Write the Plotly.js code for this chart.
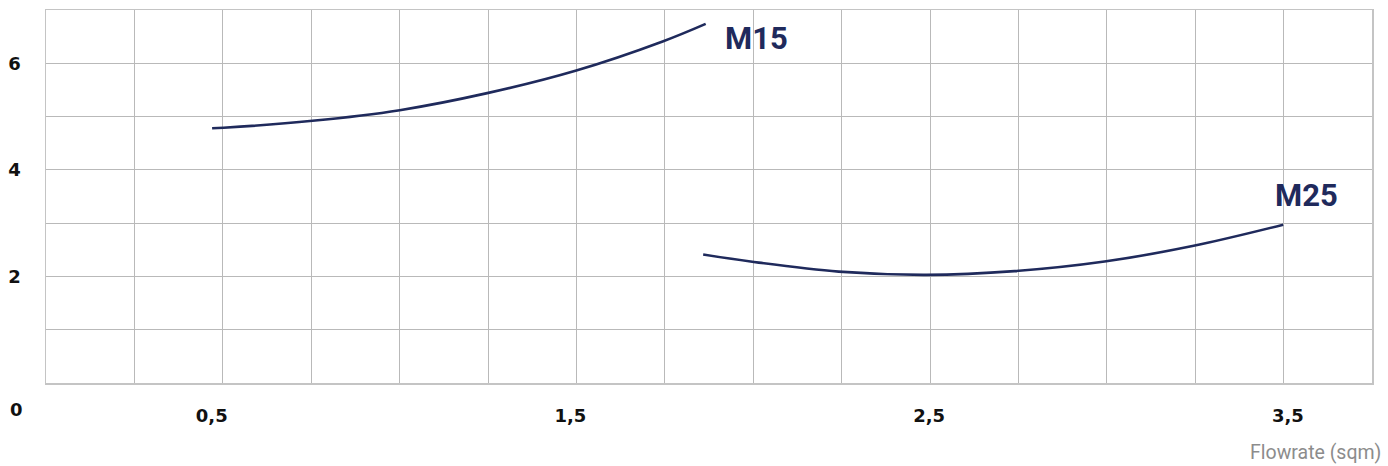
<!DOCTYPE html>
<html>
<head>
<meta charset="utf-8">
<script src="https://cdn.plot.ly/plotly-3.0.1.min.js"></script>
<style>html,body{margin:0;padding:0;background:#fff;}#chart{width:1388px;height:466px;}</style>
</head>
<body>
<div id="chart"></div>
<script>
// Data
const m15X = [0.501, 0.533, 0.781, 1.024, 1.268, 1.514, 1.757, 1.877];
const m15Y = [4.78, 4.79, 4.92, 5.12, 5.44, 5.86, 6.41, 6.74];
const m25X = [1.870, 2.002, 2.248, 2.492, 2.738, 2.989, 3.234, 3.487];
const m25Y = [2.41, 2.28, 2.09, 2.03, 2.10, 2.28, 2.57, 2.97];
const seriesNames = ['M15', 'M25'];
const xTickVals = [0.5, 1.5, 2.5, 3.5];
const xTickText = ['0,5', '1,5', '2,5', '3,5'];
const yGridVals = [0, 1, 2, 3, 4, 5, 6, 7];
const yGridText = ['', '', '2', '', '4', '', '6', ''];
const labelPos = {M15: [2.019, 6.465], M25: [3.553, 3.51]};

const xRange = [0.0379, 3.7346];
const nGrid = 15;
const gridStep = (xRange[1] - xRange[0]) / nGrid;
const xGridVals = [];
for (let i = 0; i <= nGrid; i++) xGridVals.push(xRange[0] + i * gridStep);

const navy = '#1f2a5c';
const gridCol = '#b9b9b9';

const traces = [
  {x: m15X, y: m15Y, name: seriesNames[0], mode: 'lines', line: {color: navy, width: 2.6, shape: 'spline'}, hoverinfo: 'skip'},
  {x: m25X, y: m25Y, name: seriesNames[1], mode: 'lines', line: {color: navy, width: 2.6, shape: 'spline'}, hoverinfo: 'skip'},
  {x: [xTickVals[0]], y: [0], xaxis: 'x2', mode: 'markers', marker: {opacity: 0}, hoverinfo: 'skip', showlegend: false}
];

const tickFont = {family: 'DejaVu Sans', size: 18, color: '#111111', weight: 'bold'};

const layout = {
  width: 1388, height: 466,
  margin: {l: 46, r: 16, t: 10, b: 83},
  paper_bgcolor: '#ffffff', plot_bgcolor: '#ffffff',
  showlegend: false,
  xaxis: {
    range: xRange, fixedrange: true,
    tickmode: 'array', tickvals: xGridVals, showticklabels: false, ticks: '',
    showgrid: true, gridcolor: gridCol, gridwidth: 1,
    showline: true, linecolor: '#c4c4c4', linewidth: 1.5, mirror: true,
    zeroline: false
  },
  xaxis2: {
    range: xRange, fixedrange: true, overlaying: 'x', anchor: 'y', side: 'bottom',
    tickmode: 'array', tickvals: xTickVals, ticktext: xTickText,
    ticks: 'outside', ticklen: 16, tickcolor: 'rgba(0,0,0,0)',
    tickfont: tickFont, showgrid: false, showline: false, zeroline: false
  },
  yaxis: {
    range: [0, 7], fixedrange: true,
    tickmode: 'array', tickvals: yGridVals, ticktext: yGridText,
    ticks: 'outside', ticklen: 20, tickcolor: 'rgba(0,0,0,0)',
    tickfont: tickFont,
    showgrid: true, gridcolor: gridCol, gridwidth: 1,
    showline: true, linecolor: '#c4c4c4', linewidth: 1.5, mirror: true,
    zeroline: false
  },
  annotations: [
    {text: seriesNames[0], x: labelPos.M15[0], y: labelPos.M15[1], xref: 'x', yref: 'y', showarrow: false,
     xanchor: 'center', yanchor: 'middle', font: {family: 'Roboto', size: 31, color: navy, weight: 'bold'}},
    {text: seriesNames[1], x: labelPos.M25[0], y: labelPos.M25[1], xref: 'x', yref: 'y', showarrow: false,
     xanchor: 'center', yanchor: 'middle', font: {family: 'Roboto', size: 31, color: navy, weight: 'bold'}},
    {text: '0', x: -0.0221, y: -0.0715, xref: 'paper', yref: 'paper', showarrow: false,
     xanchor: 'center', yanchor: 'middle', font: tickFont},
    {text: 'Flowrate (sqm)', x: 1.008, y: -0.1867, xref: 'paper', yref: 'paper', showarrow: false,
     xanchor: 'right', yanchor: 'middle', font: {family: 'Roboto', size: 19.5, color: '#8c8c8c'}}
  ]
};

Plotly.newPlot('chart', traces, layout, {staticPlot: true, displayModeBar: false});
</script>
</body>
</html>
